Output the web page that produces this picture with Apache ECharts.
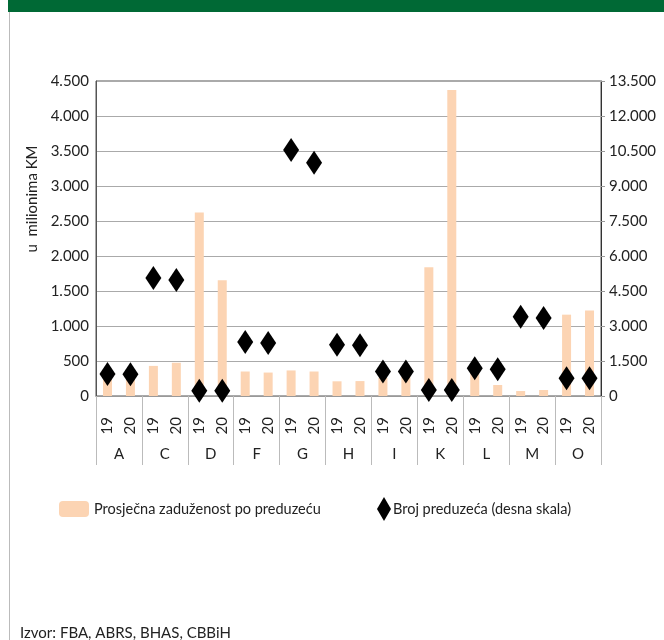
<!DOCTYPE html>
<html>
<head>
<meta charset="utf-8">
<script src="https://cdn.jsdelivr.net/npm/echarts@6/dist/echarts.min.js"></script>
<style>
  html, body { margin: 0; padding: 0; background: #fff; }
  #chart { width: 664px; height: 640px; }
</style>
</head>
<body>
<div id="chart"></div>
<script>
  // sektori i godine
  const groups = ['A', 'C', 'D', 'F', 'G', 'H', 'I', 'K', 'L', 'M', 'O']
  const years = ['19', '20']
  // prosječna zaduženost po preduzeću (lijeva skala, mil. KM)
  const avgDebt = [250, 250, 430, 475, 2620, 1655, 350, 335, 365, 350, 210, 213, 260, 280, 1840, 4370, 330, 157, 71, 86, 1162, 1220]
  // broj preduzeća (desna skala)
  const firmCount = [940, 930, 5060, 4970, 230, 230, 2310, 2270, 10540, 10000, 2200, 2170, 1045, 1045, 257, 257, 1186, 1143, 3400, 3345, 757, 757]
  const leftTicks = { min: 0, max: 4500, interval: 500 }
  const rightTicks = { min: 0, max: 13500, interval: 1500 }

  const font = 'Lato, sans-serif'
  const categories = []
  groups.forEach(g => years.forEach(y => categories.push(y)))

  const fmt = v => String(v).replace(/\B(?=(\d{3})+(?!\d))/g, '.')

  const chart = echarts.init(document.getElementById('chart'))
  chart.setOption({
    animation: false,
    textStyle: { fontFamily: font },
    grid: {
      left: 96, right: 63, top: 81, bottom: 244,
      show: true, borderColor: '#555', borderWidth: 1
    },
    legend: [{
      data: ['Prosječna zaduženost po preduzeću'],
      left: 54, top: 496,
      itemWidth: 30, itemHeight: 16, itemGap: 6,
      textStyle: { fontFamily: font, fontSize: 14.5, color: '#222' }
    }, {
      data: [{ name: 'Broj preduzeća (desna skala)', icon: 'diamond' }],
      left: 372, top: 492,
      itemWidth: 14, itemHeight: 24,
      itemStyle: { opacity: 1 },
      textStyle: { fontFamily: font, fontSize: 14.5, color: '#222', padding: [0, 0, 0, -3] }
    }],
    xAxis: [{
      type: 'category',
      data: categories,
      position: 'bottom',
      axisLine: { lineStyle: { color: '#999' } },
      axisTick: { show: false },
      axisLabel: { rotate: 90, margin: 21, fontSize: 15, color: '#222', interval: 0 }
    }, {
      type: 'category',
      data: groups,
      position: 'bottom',
      axisLine: { show: true, lineStyle: { color: '#999' } },
      axisTick: { show: true, interval: 0, length: 69, lineStyle: { color: '#bbb' } },
      axisLabel: { show: true, margin: 51, fontSize: 15, color: '#222', interval: 0 }
    }],
    yAxis: [{
      type: 'value',
      min: leftTicks.min, max: leftTicks.max, interval: leftTicks.interval,
      axisLine: { show: true, lineStyle: { color: '#555' } },
      axisTick: { show: false },
      axisLabel: { fontSize: 15, color: '#222', margin: 7, formatter: fmt },
      splitLine: { lineStyle: { color: '#aaa' } }
    }, {
      type: 'value',
      min: rightTicks.min, max: rightTicks.max, interval: rightTicks.interval,
      axisLine: { show: true, lineStyle: { color: '#333' } },
      axisTick: { show: true, length: 4, lineStyle: { color: '#999' } },
      axisLabel: { fontSize: 15, color: '#222', margin: 8, formatter: fmt },
      splitLine: { show: false }
    }],
    series: [{
      name: 'Prosječna zaduženost po preduzeću',
      type: 'bar',
      xAxisIndex: 0,
      yAxisIndex: 0,
      data: avgDebt,
      barWidth: 9,
      itemStyle: { color: '#fcd4b3' }
    }, {
      name: 'Broj preduzeća (desna skala)',
      type: 'scatter',
      xAxisIndex: 0,
      yAxisIndex: 1,
      data: firmCount,
      symbol: 'diamond',
      symbolSize: [16, 24],
      itemStyle: { color: '#000', opacity: 1 }
    }],
    graphic: [{
      type: 'rect',
      shape: { x: 8, y: 0, width: 656, height: 12 },
      style: { fill: '#006935' }
    }, {
      type: 'line',
      shape: { x1: 9.5, y1: 12, x2: 9.5, y2: 640 },
      style: { stroke: '#bbb', lineWidth: 1 }
    }, {
      type: 'text',
      x: 32, y: 199,
      rotation: Math.PI / 2,
      style: {
        text: 'u  milionima KM', fontFamily: font, fontSize: 15, fill: '#222',
        align: 'center', verticalAlign: 'middle'
      }
    }, {
      type: 'text',
      left: 20, top: 626,
      style: { text: 'Izvor: FBA, ABRS, BHAS, CBBiH', fontFamily: font, fontSize: 15, fill: '#222' }
    }]
  })
</script>
</body>
</html>
